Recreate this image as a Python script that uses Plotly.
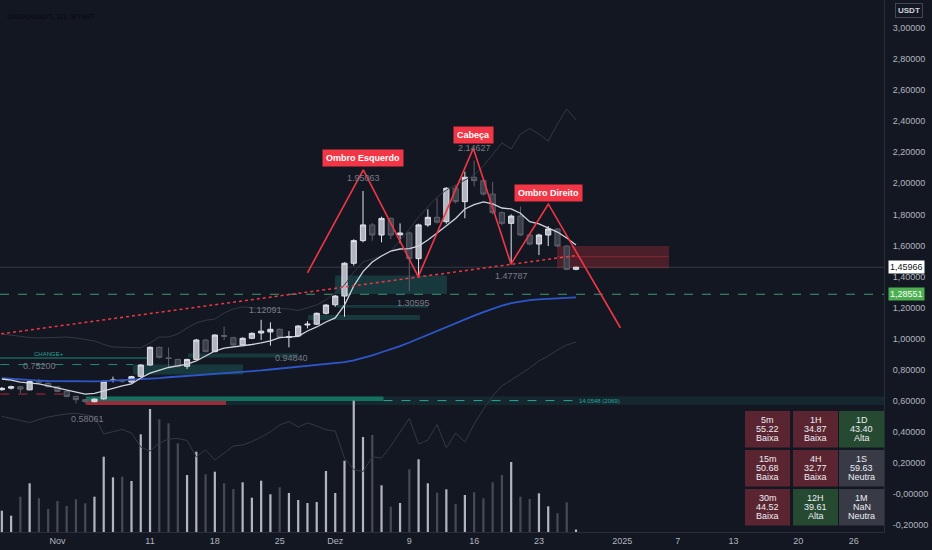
import plotly.graph_objects as go
import pandas as pd

# daily candles, 26 Oct -> 27 Dec 2024
dates = pd.date_range("2024-10-26", "2024-12-27", freq="D")

opens = [0.671, 0.681, 0.690, 0.670, 0.724, 0.712, 0.690, 0.660, 0.628, 0.607,
         0.594, 0.612, 0.730, 0.732, 0.720, 0.757, 0.830, 0.944, 0.876, 0.866,
         0.822, 0.866, 0.991, 0.916, 1.020, 1.006, 0.959, 1.002, 1.036, 1.043,
         1.060, 1.008, 1.017, 1.088, 1.093, 1.163, 1.218, 1.274, 1.485, 1.631,
         1.732, 1.667, 1.774, 1.668, 1.680, 1.515, 1.732, 1.781, 1.753, 1.968,
         1.882, 2.039, 2.017, 1.931, 1.811, 1.742, 1.789, 1.667, 1.609, 1.667,
         1.706, 1.596, 1.446]
highs = [0.688, 0.697, 0.694, 0.728, 0.741, 0.718, 0.693, 0.663, 0.632, 0.612,
         0.615, 0.730, 0.755, 0.740, 0.760, 0.834, 0.950, 0.948, 0.942, 0.870,
         0.870, 0.998, 0.996, 1.028, 1.077, 1.012, 1.008, 1.040, 1.1209, 1.105,
         1.065, 1.049, 1.086, 1.113, 1.168, 1.222, 1.281, 1.492, 1.640, 1.9506,
         1.745, 1.785, 1.780, 1.742, 1.690, 1.740, 1.833, 1.903, 1.975, 1.990,
         2.075, 2.1463, 2.025, 2.010, 1.820, 1.800, 1.850, 1.675, 1.675, 1.725,
         1.712, 1.600, 1.462]
lows = [0.665, 0.672, 0.648, 0.668, 0.712, 0.685, 0.655, 0.622, 0.583, 0.5806,
        0.590, 0.607, 0.718, 0.716, 0.714, 0.752, 0.826, 0.872, 0.819, 0.815,
        0.805, 0.862, 0.912, 0.912, 0.991, 0.950, 0.955, 0.996, 0.991, 0.955,
        1.000, 0.944, 1.010, 1.066, 1.088, 1.155, 1.205, 1.141, 1.470, 1.620,
        1.630, 1.620, 1.640, 1.614, 1.306, 1.400, 1.720, 1.740, 1.740, 1.870,
        1.775, 1.980, 1.920, 1.800, 1.730, 1.478, 1.660, 1.600, 1.538, 1.596,
        1.590, 1.440, 1.440]
closes = [0.680, 0.690, 0.675, 0.723, 0.721, 0.690, 0.660, 0.628, 0.607, 0.595,
          0.610, 0.725, 0.733, 0.726, 0.755, 0.830, 0.944, 0.879, 0.872, 0.822,
          0.866, 0.991, 0.916, 1.023, 1.015, 0.959, 1.002, 1.034, 1.048, 1.060,
          1.008, 1.012, 1.081, 1.093, 1.163, 1.216, 1.274, 1.485, 1.631, 1.732,
          1.667, 1.774, 1.667, 1.680, 1.515, 1.732, 1.781, 1.750, 1.968, 1.882,
          2.039, 2.017, 1.931, 1.811, 1.742, 1.789, 1.667, 1.609, 1.667, 1.706,
          1.596, 1.446, 1.4597]
# volume in millions
volumes = [2.13, 1.63, 3.53, 4.87, 3.37, 2.30, 3.10, 2.60, 3.27, 2.87,
           3.53, 7.53, 5.47, 5.53, 5.10, 9.77, 12.30, 11.27, 10.87, 8.87,
           5.70, 8.03, 5.77, 6.03, 4.87, 4.30, 4.97, 3.43, 5.13, 3.77,
           4.47, 3.90, 3.20, 2.90, 3.00, 6.10, 3.90, 7.13, 13.13, 9.50,
           9.70, 4.67, 2.53, 2.90, 6.27, 7.27, 4.87, 3.93, 4.27, 2.80,
           3.70, 3.97, 3.37, 4.97, 5.70, 7.00, 3.53, 3.30, 3.87, 2.57,
           1.87, 2.97, 0.25]
ema_fast = [0.740, 0.733, 0.720, 0.714, 0.708, 0.695, 0.682, 0.669, 0.656, 0.643,
            0.647, 0.663, 0.682, 0.695, 0.708, 0.746, 0.778, 0.798, 0.814, 0.824,
            0.836, 0.856, 0.888, 0.920, 0.939, 0.946, 0.952, 0.962, 0.972, 0.985,
            1.007, 1.010, 1.014, 1.049, 1.075, 1.107, 1.133, 1.216, 1.339, 1.431,
            1.493, 1.532, 1.564, 1.577, 1.580, 1.596, 1.635, 1.680, 1.725, 1.773,
            1.835, 1.863, 1.880, 1.867, 1.841, 1.835, 1.807, 1.753, 1.738, 1.712,
            1.686, 1.648, 1.603]
ma_slow = [0.746, 0.741, 0.737, 0.732, 0.730, 0.727, 0.726, 0.726, 0.725, 0.725,
           0.725, 0.726, 0.729, 0.731, 0.733, 0.737, 0.741, 0.746, 0.751, 0.755,
           0.759, 0.764, 0.768, 0.773, 0.777, 0.782, 0.786, 0.791, 0.795, 0.801,
           0.807, 0.812, 0.818, 0.824, 0.830, 0.836, 0.842, 0.849, 0.860, 0.875,
           0.892, 0.912, 0.930, 0.952, 0.975, 1.000, 1.025, 1.050, 1.078, 1.103,
           1.125, 1.148, 1.170, 1.192, 1.212, 1.228, 1.240, 1.248, 1.253, 1.257,
           1.260, 1.263, 1.265]
band_upper = [1.030, 1.023, 1.013, 1.007, 1.004, 1.007, 1.010, 1.010, 1.004, 0.994,
              0.985, 0.962, 0.946, 0.944, 0.943, 0.941, 0.972, 1.010, 1.010, 1.030,
              1.068, 1.101, 1.118, 1.126, 1.165, 1.191, 1.204, 1.197, 1.194, 1.195,
              1.195, 1.191, 1.181, 1.197, 1.216, 1.249, 1.294, 1.345, 1.429, 1.493,
              1.513, 1.532, 1.560, 1.630, 1.705, 1.783, 1.847, 1.912, 1.957, 1.989,
              2.021, 2.053, 2.111, 2.189, 2.260, 2.221, 2.317, 2.353, 2.317, 2.272,
              2.382, 2.478, 2.408]
band_lower = [0.499, 0.486, 0.469, 0.460, 0.479, 0.495, 0.506, 0.515, 0.519, 0.508,
              0.498, 0.386, 0.399, 0.415, 0.392, 0.302, 0.276, 0.328, 0.353, 0.357,
              0.344, 0.238, 0.283, 0.218, 0.263, 0.308, 0.315, 0.337, 0.366, 0.399,
              0.444, 0.466, 0.431, 0.457, 0.437, 0.413, 0.405, 0.231, 0.157, 0.143,
              0.238, 0.231, 0.308, 0.399, 0.486, 0.321, 0.347, 0.447, 0.296, 0.392,
              0.334, 0.450, 0.545, 0.630, 0.695, 0.733, 0.772, 0.811, 0.856, 0.888,
              0.927, 0.959, 0.978]

# head & shoulders drawing
hs_dates = ["2024-11-28 00:00", "2024-12-04 00:45", "2024-12-09 23:15", "2024-12-15 21:50",
            "2024-12-19 23:30", "2024-12-24 00:15", "2024-12-31 19:00"]
hs_prices = [1.424, 2.086, 1.399, 2.225, 1.480, 1.867, 1.070]
hs_labels = ["Ombro Esquerdo", "Cabeça", "Ombro Direito"]
hs_label_dates = ["2024-12-04 00:00", "2024-12-15 23:00", "2024-12-24 00:45"]
hs_label_prices = [2.160, 2.311, 1.938]
neck_dates = ["2024-10-24", "2024-12-27"]
neck_prices = [1.015, 1.535]

# pivot value labels
pivot_texts = ["1.95063", "2.14627", "1.47787", "1.30595", "1.12091", "0.94840", "0.75200", "0.58061"]
pivot_dates = ["2024-12-04", "2024-12-16", "2024-12-20 02:00", "2024-12-09 10:00",
               "2024-11-23 12:00", "2024-11-26 07:00", "2024-10-30 02:00", "2024-11-04 05:00"]
pivot_prices = [2.034, 2.227, 1.403, 1.229, 1.184, 0.875, 0.824, 0.482]

# order-block zones (bullish)
ob_x0 = ["2024-11-30 23:30", "2024-12-01 04:00", "2024-11-28 01:30", "2024-11-09 04:00", "2024-11-15 02:30"]
ob_x1 = ["2024-12-13 01:30", "2024-12-11 00:30", "2024-12-10 03:30", "2024-11-21 01:00", "2024-11-27 00:00"]
ob_y0 = [1.287, 1.199, 1.120, 0.769, 0.878]
ob_y1 = [1.406, 1.216, 1.152, 0.833, 0.904]

# supply zone and liquidity band
supply_x = ["2024-12-24 22:50", "2025-01-06 01:10"]
supply_y = [1.453, 1.596, 1.527]
liq_x = ["2024-11-04 02:10", "2024-12-06 05:00", "2024-11-19 05:00", "2025-02-10"]
liq_y = [0.572, 0.598, 0.627, 0.601]
liq_text = "14.0548 (2069)"
liq_text_date = "2024-12-27 02:30"
change_level, change_end = 0.875, "2024-11-10 16:00"
dash_level, dash_end = 0.833, "2024-11-09 04:00"
red_dash_level, red_dash_end = 0.643, "2024-11-01 14:00"
last_price = 1.45966
ma_price = 1.28551

# rating table
tf_labels = ["5m", "1H", "1D", "15m", "4H", "1S", "30m", "12H", "1M"]
tf_values = ["55.22", "34.87", "43.40", "50.68", "32.77", "59.63", "44.52", "39.61", "NaN"]
tf_status = ["Baixa", "Baixa", "Alta", "Baixa", "Baixa", "Neutra", "Baixa", "Alta", "Neutra"]

# axes
x_ticks = ["2024-11-01", "2024-11-11", "2024-11-18", "2024-11-25", "2024-12-01", "2024-12-09",
           "2024-12-16", "2024-12-23", "2025-01-01", "2025-01-07", "2025-01-13", "2025-01-20", "2025-01-26"]
x_ticktext = ["Nov", "11", "18", "25", "Dez", "9", "16", "23", "2025", "7", "13", "20", "26"]
y_ticks = [3.0, 2.8, 2.6, 2.4, 2.2, 2.0, 1.8, 1.6, 1.4, 1.2, 1.0, 0.8, 0.6, 0.4, 0.2, 0.0, -0.2]
y_ticktext = ["3,00000", "2,80000", "2,60000", "2,40000", "2,20000", "2,00000", "1,80000", "1,60000",
              "1,40000", "1,20000", "1,00000", "0,80000", "0,60000", "0,40000", "0,20000",
              "-0,00000", "-0,20000"]

BG = "#131722"
RED = "#f23645"
TEAL = "#26a69a"
FONT = "Liberation Sans"
PW, PH = 884.0, 532.0  # plot area in px


def px(x):
    return x / PW


def py(y):
    return 1 - y / PH


fig = go.Figure()

bar_colors = ["#b2b5be" if c >= o else "#464a55" for o, c in zip(opens, closes)]
fig.add_trace(go.Bar(x=dates, y=volumes, marker_color=bar_colors, marker_line_width=0,
                     width=0.24 * 86400000, yaxis="y", hoverinfo="skip"))

for band in (band_upper, band_lower):
    fig.add_trace(go.Scatter(x=dates, y=band, mode="lines", yaxis="y2",
                             line=dict(color="#343844", width=1)))

fig.add_trace(go.Candlestick(
    x=dates, open=opens, high=highs, low=lows, close=closes, yaxis="y2", whiskerwidth=0,
    increasing=dict(line=dict(color="#e0e3eb", width=1), fillcolor="#b2b5be"),
    decreasing=dict(line=dict(color="#5d606b", width=1), fillcolor="#3b3f49")))

fig.add_trace(go.Scatter(x=dates, y=ma_slow, mode="lines", yaxis="y2",
                         line=dict(color="#2e56c9", width=1.8)))
fig.add_trace(go.Scatter(x=dates, y=ema_fast, mode="lines", yaxis="y2",
                         line=dict(color="#d1d4dc", width=1.3)))

fig.add_trace(go.Scatter(x=neck_dates, y=neck_prices, mode="lines", yaxis="y2",
                         line=dict(color=RED, width=1.5, dash="dot")))
fig.add_trace(go.Scatter(x=hs_dates, y=hs_prices, mode="lines", yaxis="y2",
                         line=dict(color=RED, width=1.6)))

shapes = []
for x0, x1, y0, y1 in zip(ob_x0, ob_x1, ob_y0, ob_y1):
    shapes.append(dict(type="rect", xref="x", yref="y2", x0=x0, x1=x1, y0=y0, y1=y1,
                       fillcolor="rgba(38,166,154,0.24)", line_width=0, layer="below"))
# liquidity band: dark full strip, bright upper half, red lower half
shapes.append(dict(type="rect", xref="x", yref="y2", x0=liq_x[0], x1=liq_x[3], y0=liq_y[0], y1=liq_y[2],
                   fillcolor="rgba(38,166,154,0.12)", line_width=0, layer="below"))
shapes.append(dict(type="rect", xref="x", yref="y2", x0=liq_x[0], x1=liq_x[1], y0=liq_y[1], y1=liq_y[2],
                   fillcolor="#16705f", line_width=0, layer="below"))
shapes.append(dict(type="rect", xref="x", yref="y2", x0=liq_x[0], x1=liq_x[2], y0=liq_y[0], y1=liq_y[1],
                   fillcolor="#9b2c37", line_width=0, layer="below"))
shapes.append(dict(type="line", xref="x", yref="y2", x0=liq_x[1], x1=liq_text_date, y0=liq_y[3], y1=liq_y[3],
                   line=dict(color=TEAL, width=1, dash="dash"), layer="below"))
# supply zone
shapes.append(dict(type="rect", xref="x", yref="y2", x0=supply_x[0], x1=supply_x[1], y0=supply_y[0],
                   y1=supply_y[1], fillcolor="rgba(242,54,69,0.25)", line_width=0, layer="below"))
shapes.append(dict(type="line", xref="x", yref="y2", x0=supply_x[0], x1=supply_x[1], y0=supply_y[2],
                   y1=supply_y[2], line=dict(color="rgba(242,54,69,0.35)", width=1), layer="below"))
# left-side levels
shapes.append(dict(type="line", xref="x", yref="y2", x0="2024-10-20", x1=change_end, y0=change_level,
                   y1=change_level, line=dict(color="#1f8a7c", width=1.2), layer="below"))
shapes.append(dict(type="line", xref="x", yref="y2", x0="2024-10-20", x1=dash_end, y0=dash_level, y1=dash_level,
                   line=dict(color="#1f8a7c", width=1, dash="dash"), layer="below"))
shapes.append(dict(type="line", xref="x", yref="y2", x0="2024-10-20", x1=red_dash_end, y0=red_dash_level,
                   y1=red_dash_level, line=dict(color="#b02a37", width=1, dash="dash"), layer="below"))
# price lines
shapes.append(dict(type="line", xref="paper", yref="y2", x0=0, x1=1, y0=last_price, y1=last_price,
                   line=dict(color="#363a45", width=1), layer="below"))
shapes.append(dict(type="line", xref="paper", yref="y2", x0=0, x1=1, y0=ma_price, y1=ma_price,
                   line=dict(color="#3f9a6c", width=1, dash="dash"), layer="below"))

annotations = []
for t, d, p in zip(pivot_texts, pivot_dates, pivot_prices):
    annotations.append(dict(x=d, y=p, xref="x", yref="y2", text=t, showarrow=False, xanchor="center",
                            font=dict(family=FONT, size=9, color="#787b86")))
for t, d, p in zip(hs_labels, hs_label_dates, hs_label_prices):
    annotations.append(dict(x=d, y=p, xref="x", yref="y2", text="<b>" + t + "</b>", showarrow=False,
                            xanchor="center", bgcolor=RED, borderpad=3,
                            font=dict(family=FONT, size=9, color="#ffffff")))
annotations.append(dict(x=liq_text_date, y=liq_y[3], xref="x", yref="y2", text=liq_text, showarrow=False,
                        xanchor="left", font=dict(family=FONT, size=6, color=TEAL)))
annotations.append(dict(x="2024-10-31 03:00", y=0.901, xref="x", yref="y2", text="CHANGE+", showarrow=False,
                        xanchor="center", font=dict(family=FONT, size=6, color=TEAL)))

# right axis badges
annotations.append(dict(x=px(888), y=last_price, xref="paper", yref="y2", text="1,45966", showarrow=False,
                        xanchor="left", bgcolor="#ffffff", borderpad=1,
                        font=dict(family=FONT, size=9, color="#131722")))
annotations.append(dict(x=px(888), y=ma_price, xref="paper", yref="y2", text="1,28551", showarrow=False,
                        xanchor="left", bgcolor="#4caf50", borderpad=1,
                        font=dict(family=FONT, size=9, color="#ffffff")))
annotations.append(dict(x=px(909), y=py(10.5), xref="paper", yref="paper", text="<b>USDT</b>", showarrow=False,
                        xanchor="center", yanchor="middle",
                        bordercolor="#434651", borderwidth=1, borderpad=2, bgcolor=BG,
                        font=dict(family=FONT, size=8, color="#d1d4dc")))
annotations.append(dict(x=px(5), y=py(10), xref="paper", yref="paper", text="<b>ONDOUSDT, 1D, BYBIT</b>",
                        showarrow=False, xanchor="left", font=dict(family=FONT, size=8, color="#0b0d12")))

# rating table
status_fill = {"Baixa": "#5a2530", "Alta": "#254a31", "Neutra": "#383b45"}
col_x = [745, 793, 839]
row_y = [411, 450, 489]
cw, ch = 45, 36.5
for i, (lab, val, st) in enumerate(zip(tf_labels, tf_values, tf_status)):
    x0, y0 = col_x[i % 3], row_y[i // 3]
    shapes.append(dict(type="rect", xref="paper", yref="paper", x0=px(x0), x1=px(x0 + cw),
                       y0=py(y0 + ch), y1=py(y0), fillcolor=status_fill[st], line_width=0))
    for k, t in enumerate((lab, val, st)):
        annotations.append(dict(x=px(x0 + cw / 2), y=py(y0 + ch / 2 + (k - 1) * 9), xref="paper", yref="paper",
                                text=t, showarrow=False, xanchor="center", yanchor="middle",
                                font=dict(family=FONT, size=9, color="#eceef3")))

fig.update_layout(
    width=932, height=550,
    margin=dict(l=0, r=48, t=0, b=18),
    paper_bgcolor=BG, plot_bgcolor=BG,
    showlegend=False, boxgap=0.2,
    shapes=shapes, annotations=annotations,
    xaxis=dict(type="date", range=["2024-10-25 19:12", "2025-01-29 06:14"], tickvals=x_ticks,
               ticktext=x_ticktext, showgrid=False, zeroline=False, showline=True, linecolor="#2a2e39",
               ticks="", tickfont=dict(family=FONT, size=9, color="#b2b5be"),
               rangeslider=dict(visible=False)),
    yaxis=dict(range=[0, 53.2], visible=False, showgrid=False, fixedrange=True),
    yaxis2=dict(overlaying="y", side="right", range=[-0.2453, 3.1803], tickvals=y_ticks,
                ticktext=y_ticktext, showgrid=False, zeroline=False, showline=True, linecolor="#2a2e39",
                ticks="", ticklabelstandoff=6, tickfont=dict(family=FONT, size=9, color="#b2b5be")),
)

# page margin off so the 932x550 figure fills the window
fig.write_html("out.html", config={"displayModeBar": False},
               post_script="document.body.style.margin='0';document.body.style.background='#131722';")
